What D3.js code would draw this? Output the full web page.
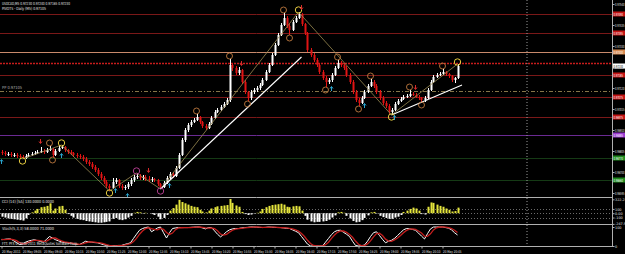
<!DOCTYPE html>
<html>
<head>
<meta charset="utf-8">
<script src="https://cdn.jsdelivr.net/npm/d3@7"></script>
<style>
html, body { margin: 0; padding: 0; background: #000; }
svg { display: block; }
text { font-family: "DejaVu Sans", sans-serif; }
</style>
</head>
<body>
<svg width="625" height="254"></svg>
<script>
// USDCAD M5, 153 bars
var open = [
0.96800,0.96795,0.96790,0.96790,0.96785,0.96785,0.96780,0.96775,0.96770,0.96780,
0.96785,0.96790,0.96795,0.96800,0.96805,0.96800,0.96810,0.96815,0.96785,0.96805,
0.96820,0.96825,0.96810,0.96800,0.96795,0.96785,0.96780,0.96775,0.96765,0.96750,
0.96740,0.96725,0.96710,0.96690,0.96670,0.96650,0.96630,0.96620,0.96650,0.96660,
0.96630,0.96620,0.96625,0.96640,0.96660,0.96675,0.96680,0.96670,0.96675,0.96665,
0.96660,0.96665,0.96660,0.96640,0.96625,0.96645,0.96670,0.96690,0.96680,0.96720,
0.96785,0.96860,0.96910,0.96935,0.96950,0.96960,0.96975,0.96950,0.96930,0.96920,
0.96940,0.96970,0.97000,0.97010,0.97025,0.97040,0.97060,0.97235,0.97220,0.97195,
0.97210,0.97150,0.97100,0.97070,0.97100,0.97110,0.97120,0.97135,0.97160,0.97200,
0.97235,0.97285,0.97335,0.97385,0.97435,0.97470,0.97430,0.97410,0.97450,0.97470,
0.97490,0.97440,0.97395,0.97310,0.97285,0.97260,0.97235,0.97200,0.97170,0.97150,
0.97160,0.97185,0.97220,0.97245,0.97235,0.97220,0.97185,0.97150,0.97100,0.97060,
0.97045,0.97070,0.97100,0.97130,0.97150,0.97130,0.97100,0.97070,0.97045,0.97030,
0.97000,0.97010,0.97040,0.97055,0.97065,0.97075,0.97080,0.97090,0.97085,0.97075,
0.97070,0.97060,0.97070,0.97110,0.97150,0.97175,0.97185,0.97190,0.97200,0.97190,
0.97180,0.97160,0.97170];
var close = [
0.96795,0.96790,0.96790,0.96785,0.96785,0.96780,0.96775,0.96770,0.96780,0.96785,
0.96790,0.96795,0.96800,0.96805,0.96800,0.96810,0.96815,0.96785,0.96805,0.96820,
0.96825,0.96810,0.96800,0.96795,0.96785,0.96780,0.96775,0.96765,0.96750,0.96740,
0.96725,0.96710,0.96690,0.96670,0.96650,0.96630,0.96620,0.96650,0.96660,0.96630,
0.96620,0.96625,0.96640,0.96660,0.96675,0.96680,0.96670,0.96675,0.96665,0.96660,
0.96665,0.96660,0.96640,0.96625,0.96645,0.96670,0.96690,0.96680,0.96720,0.96785,
0.96860,0.96910,0.96935,0.96950,0.96960,0.96975,0.96950,0.96930,0.96920,0.96940,
0.96970,0.97000,0.97010,0.97025,0.97040,0.97060,0.97235,0.97220,0.97195,0.97210,
0.97150,0.97100,0.97070,0.97100,0.97110,0.97120,0.97135,0.97160,0.97200,0.97235,
0.97285,0.97335,0.97385,0.97435,0.97470,0.97430,0.97410,0.97450,0.97470,0.97490,
0.97440,0.97395,0.97310,0.97285,0.97260,0.97235,0.97200,0.97170,0.97150,0.97160,
0.97185,0.97220,0.97245,0.97235,0.97220,0.97185,0.97150,0.97100,0.97060,0.97045,
0.97070,0.97100,0.97130,0.97150,0.97130,0.97100,0.97070,0.97045,0.97030,0.97000,
0.97010,0.97040,0.97055,0.97065,0.97075,0.97080,0.97090,0.97085,0.97075,0.97070,
0.97060,0.97070,0.97110,0.97150,0.97175,0.97185,0.97190,0.97200,0.97190,0.97180,
0.97160,0.97170,0.97230];
var high = [
0.96810,0.96805,0.96800,0.96800,0.96795,0.96795,0.96790,0.96785,0.96790,0.96795,
0.96800,0.96805,0.96810,0.96825,0.96815,0.96820,0.96830,0.96820,0.96815,0.96830,
0.96835,0.96830,0.96815,0.96810,0.96800,0.96795,0.96790,0.96785,0.96775,0.96760,
0.96750,0.96735,0.96720,0.96700,0.96680,0.96660,0.96640,0.96670,0.96670,0.96665,
0.96640,0.96635,0.96650,0.96670,0.96685,0.96695,0.96690,0.96685,0.96685,0.96680,
0.96675,0.96670,0.96665,0.96645,0.96655,0.96680,0.96700,0.96700,0.96730,0.96795,
0.96870,0.96920,0.96945,0.96960,0.96970,0.96990,0.96980,0.96955,0.96940,0.96950,
0.96980,0.97010,0.97020,0.97035,0.97050,0.97070,0.97265,0.97245,0.97230,0.97225,
0.97215,0.97160,0.97105,0.97110,0.97120,0.97130,0.97145,0.97170,0.97210,0.97245,
0.97295,0.97345,0.97395,0.97445,0.97495,0.97480,0.97440,0.97460,0.97480,0.97500,
0.97495,0.97445,0.97400,0.97320,0.97295,0.97270,0.97245,0.97210,0.97180,0.97170,
0.97195,0.97230,0.97260,0.97255,0.97245,0.97230,0.97195,0.97160,0.97110,0.97070,
0.97080,0.97110,0.97140,0.97165,0.97160,0.97140,0.97110,0.97080,0.97055,0.97040,
0.97020,0.97050,0.97065,0.97075,0.97085,0.97090,0.97110,0.97100,0.97095,0.97085,
0.97075,0.97080,0.97120,0.97160,0.97185,0.97195,0.97200,0.97215,0.97205,0.97195,
0.97185,0.97175,0.97240];
var low = [
0.96785,0.96780,0.96780,0.96775,0.96775,0.96770,0.96765,0.96765,0.96765,0.96775,
0.96780,0.96785,0.96790,0.96795,0.96790,0.96795,0.96805,0.96775,0.96780,0.96800,
0.96815,0.96800,0.96790,0.96785,0.96775,0.96770,0.96765,0.96755,0.96740,0.96730,
0.96715,0.96700,0.96680,0.96660,0.96640,0.96620,0.96605,0.96615,0.96640,0.96620,
0.96610,0.96610,0.96615,0.96630,0.96650,0.96665,0.96660,0.96660,0.96655,0.96650,
0.96650,0.96650,0.96630,0.96615,0.96620,0.96640,0.96665,0.96670,0.96675,0.96715,
0.96780,0.96850,0.96900,0.96925,0.96945,0.96955,0.96940,0.96920,0.96910,0.96915,
0.96935,0.96965,0.96995,0.97005,0.97020,0.97035,0.97050,0.97205,0.97185,0.97185,
0.97140,0.97090,0.97055,0.97060,0.97090,0.97100,0.97110,0.97130,0.97155,0.97195,
0.97230,0.97280,0.97330,0.97380,0.97430,0.97420,0.97385,0.97405,0.97445,0.97465,
0.97430,0.97385,0.97300,0.97275,0.97250,0.97225,0.97190,0.97160,0.97125,0.97140,
0.97150,0.97180,0.97215,0.97225,0.97210,0.97175,0.97140,0.97090,0.97050,0.97030,
0.97040,0.97065,0.97095,0.97125,0.97120,0.97090,0.97060,0.97035,0.97020,0.96990,
0.96985,0.97005,0.97035,0.97050,0.97060,0.97070,0.97075,0.97080,0.97070,0.97060,
0.97050,0.97050,0.97065,0.97105,0.97145,0.97170,0.97180,0.97185,0.97180,0.97170,
0.97150,0.97145,0.97165];

// CCI(14) histogram
var cci = [
-80,-100,-120,-130,-140,-150,-160,-170,-120,-40,
20,60,100,140,150,170,230,60,110,160,
170,80,-20,-60,-100,-130,-150,-160,-180,-190,
-200,-210,-220,-220,-210,-200,-190,-130,-110,-150,
-160,-140,-100,-60,10,30,20,-10,10,0,
-20,-40,-80,-140,-110,-40,60,120,200,310,
260,230,200,170,150,140,80,40,20,60,
110,140,160,170,180,190,330,240,180,150,
30,-20,-40,-30,-10,10,40,100,140,170,
190,200,210,220,200,150,140,160,170,160,
60,-60,-150,-190,-210,-200,-200,-190,-180,-150,
-100,-50,20,30,10,-60,-120,-180,-210,-200,
-160,-110,-50,20,30,-10,-60,-90,-110,-130,
-130,-100,-80,-40,30,60,100,130,110,60,
-20,-30,150,250,240,200,170,150,110,80,
40,50,130];

// Stochastic(5,3,3)
var stochMain = [
33,35,37,37,28,18,8,10,20,26,30,33,28,24,20,35,50,42,33,27,
22,18,17,14,11,9,8,16,25,22,20,18,17,12,7,3,0,1,2,3,
3,8,12,17,40,62,83,92,97,100,75,85,95,100,70,42,70,92,95,97,
97,97,97,98,99,100,100,95,90,97,97,80,62,48,60,75,85,90,92,92,
95,97,98,100,100,99,98,97,98,100,99,98,97,97,95,93,92,85,78,70,
50,30,10,0,0,0,0,0,20,40,60,75,82,83,72,62,50,25,3,0,
2,5,25,50,70,75,55,35,17,25,30,40,55,70,85,92,90,87,83,68,
52,37,65,90,100,100,100,100,97,94,85,70,58];
var stochSignal = [
35,34,35,36,34,28,18,12,13,19,25,30,30,28,24,26,35,42,42,34,
27,22,19,16,14,11,9,11,16,21,22,20,18,16,12,7,3,1,1,2,
3,5,8,12,23,40,62,79,91,96,91,87,85,93,88,71,61,68,86,95,
96,97,97,97,98,99,100,98,95,94,95,91,80,63,57,61,73,83,89,91,
93,95,97,98,99,100,99,98,98,98,99,99,98,97,96,95,93,90,85,78,
66,50,30,13,3,0,0,0,7,20,40,58,72,80,79,72,61,46,26,9,
2,2,11,27,48,65,67,55,36,26,24,32,42,55,70,82,89,90,87,79,
68,52,51,64,85,96,100,100,99,97,92,83,71];

// Horizontal levels (pivots / S-R) and drawn objects
var levelPrices = [0.97490, 0.97395, 0.97300, 0.97245, 0.97185, 0.97105, 0.97075, 0.96975, 0.96885, 0.96770, 0.96660];
var zigzagBars = [7, 20, 36, 45, 53, 99, 130, 152];
var zigzagPrices = [0.96765, 0.96835, 0.96605, 0.96695, 0.96615, 0.97500, 0.96985, 0.97240];
var fractalHighBars = [16, 65, 76, 94, 112, 123, 136, 147];
var fractalLowBars = [17, 82, 96, 108, 119, 140];
var downArrowBars = [13, 49, 80, 100, 138];
var upArrowBars = [0, 20, 38, 42, 56, 110, 121, 131];
var trendBars = [[53, 100], [130, 153.5]];
var trendPrices = [[0.96615, 0.97275], [0.96985, 0.97135]];
var separatorBar = 175;

var priceTicks = [0.97540, 0.97435, 0.97330, 0.97225, 0.97120, 0.97015, 0.96910, 0.96805, 0.96700, 0.96595];
var cciTicks = [322.27, 100, 0, -100, -247.5];
var stochTicks = [100, 0];
var timeBars = [0,7,14,21,28,35,42,49,56,63,70,77,84,91,98,105,112,119,126,133,140,147];
var timeLabels = ["20 May 2011","20 May 09:05","20 May 09:40","20 May 10:15","20 May 10:50","20 May 11:25",
  "20 May 12:00","20 May 12:35","20 May 13:10","20 May 13:45","20 May 14:20","20 May 14:55","20 May 15:30",
  "20 May 16:05","20 May 16:40","20 May 17:15","20 May 17:50","20 May 18:25","20 May 19:00","20 May 19:35",
  "20 May 20:10","20 May 20:45"];

var svg = d3.select("svg"),
    width = +svg.attr("width"),
    height = +svg.attr("height");
var plotRight = 612;

svg.append("rect").attr("width", width).attr("height", height).attr("fill", "#000");

var x = d3.scaleLinear().domain([0, 152]).range([1.5, 457.5]);
var y = d3.scaleLinear().domain([0.96575, 0.97560]).range([197, 0]);
var yCci = d3.scaleLinear().domain([-250, 330]).range([224, 199]);
var yStoch = d3.scaleLinear().domain([0, 100]).range([246, 227]);

svg.append("clipPath").attr("id", "mainclip")
  .append("rect").attr("x", 0).attr("y", 0).attr("width", plotRight).attr("height", 197);

var main = svg.append("g").attr("clip-path", "url(#mainclip)");

// levels
var levelColor = ["#7a1818","#7a1818","#c98a6c","#c81c1c","#7a1818","#857548","#7a1818","#7a1818","#6a2a92","#153a15","#153a15"];
var levelDash  = [null,null,null,"2,1",null,"4,2,1,2",null,null,null,null,null];
var levelBox   = ["#c41414","#c41414","#d88a50",null,"#c41414",null,"#c41414","#c41414","#9a3ad0","#1e8a1e","#1e8a1e"];

main.selectAll(".level").data(levelPrices).enter().append("line")
  .attr("class", "level")
  .attr("x1", 0).attr("x2", plotRight)
  .attr("y1", function(d) { return Math.round(y(d)) + 0.5; })
  .attr("y2", function(d) { return Math.round(y(d)) + 0.5; })
  .attr("stroke", function(d, i) { return levelColor[i]; })
  .attr("stroke-width", function(d, i) { return i == 3 ? 1.5 : 1; })
  .attr("stroke-dasharray", function(d, i) { return levelDash[i]; });

// separator
svg.append("line")
  .attr("x1", x(separatorBar) + 0.5).attr("x2", x(separatorBar) + 0.5)
  .attr("y1", 0).attr("y2", 246)
  .attr("stroke", "#9a9a9a").attr("stroke-dasharray", "1,2");

// candles
var bars = d3.range(close.length);
var candle = main.selectAll(".candle").data(bars).enter().append("g").attr("class", "candle");
function cColor(i) { return close[i] >= open[i] ? "#ffffff" : "#e01414"; }
candle.append("line")
  .attr("x1", function(i) { return Math.round(x(i)) + 0.5; })
  .attr("x2", function(i) { return Math.round(x(i)) + 0.5; })
  .attr("y1", function(i) { return y(high[i]); })
  .attr("y2", function(i) { return y(low[i]); })
  .attr("stroke", cColor);
candle.append("rect")
  .attr("x", function(i) { return Math.round(x(i)) - 0.5; })
  .attr("width", 2)
  .attr("y", function(i) { return y(Math.max(open[i], close[i])); })
  .attr("height", function(i) { return Math.max(1, Math.abs(y(open[i]) - y(close[i]))); })
  .attr("fill", cColor);

// zigzag
var zz = zigzagBars.map(function(b, i) { return [x(b), y(zigzagPrices[i])]; });
main.append("path").attr("d", d3.line()(zz))
  .attr("fill", "none").attr("stroke", "#9a8a52").attr("stroke-width", 0.8);

// trend lines
trendBars.forEach(function(tb, k) {
  main.append("line")
    .attr("x1", x(tb[0])).attr("y1", y(trendPrices[k][0]))
    .attr("x2", x(tb[1])).attr("y2", y(trendPrices[k][1]))
    .attr("stroke", "#ffffff").attr("stroke-width", 1.1);
});

// circles
main.selectAll(".fh").data(fractalHighBars).enter().append("circle")
  .attr("cx", function(b) { return x(b); })
  .attr("cy", function(b) { return y(high[b]) - 3; })
  .attr("r", 3).attr("fill", "none").attr("stroke", "#c07a40").attr("stroke-width", 0.9);
main.selectAll(".fl").data(fractalLowBars).enter().append("circle")
  .attr("cx", function(b) { return x(b); })
  .attr("cy", function(b) { return y(low[b]) + 3; })
  .attr("r", 3).attr("fill", "none").attr("stroke", "#c07a40").attr("stroke-width", 0.9);
main.selectAll(".zz").data(zigzagBars).enter().append("circle")
  .attr("cx", function(b) { return x(b); })
  .attr("cy", function(b, i) {
    var isHigh = zigzagPrices[i] >= high[b];
    return y(zigzagPrices[i]) + (isHigh ? -2 : 2);
  })
  .attr("r", 3.2).attr("fill", "none")
  .attr("stroke", function(b) { return (b == 45 || b == 53) ? "#b03c8c" : "#e6cc40"; })
  .attr("stroke-width", 1);

// arrows
main.selectAll(".dn").data(downArrowBars).enter().append("path")
  .attr("transform", function(b) { return "translate(" + x(b) + "," + (y(high[b]) - 5) + ")"; })
  .attr("d", "M0,-3L0,1M-1.5,-0.5L0,1.5L1.5,-0.5")
  .attr("fill", "none").attr("stroke", "#d82a2a").attr("stroke-width", 1);
main.selectAll(".up").data(upArrowBars).enter().append("path")
  .attr("transform", function(b) { return "translate(" + x(b) + "," + (y(low[b]) + 6) + ")"; })
  .attr("d", "M0,3L0,-1M-1.5,0.5L0,-1.5L1.5,0.5")
  .attr("fill", "none").attr("stroke", "#2aa6d0").attr("stroke-width", 1);

// CCI
var cciG = svg.append("g");
[100, 0, -100].forEach(function(v) {
  cciG.append("line").attr("x1", 0).attr("x2", plotRight)
    .attr("y1", Math.round(yCci(v)) + 0.5).attr("y2", Math.round(yCci(v)) + 0.5)
    .attr("stroke", "#6a6a6a").attr("stroke-dasharray", "1,2");
});
cciG.selectAll(".cb").data(bars).enter().append("rect")
  .attr("x", function(i) { return Math.round(x(i)) - 0.5; })
  .attr("width", 2)
  .attr("y", function(i) { return Math.min(yCci(0), yCci(cci[i])); })
  .attr("height", function(i) { return Math.abs(yCci(cci[i]) - yCci(0)); })
  .attr("fill", function(i) { return cci[i] > 0 ? "#e6e63c" : "#ffffff"; });

// Stochastic
var sLine = d3.line().x(function(d, i) { return x(i); }).y(function(d) { return yStoch(d); });
svg.append("path").attr("d", sLine(stochMain)).attr("fill", "none").attr("stroke", "#ffffff").attr("stroke-width", 1);
svg.append("path").attr("d", sLine(stochSignal)).attr("fill", "none").attr("stroke", "#c41e1e").attr("stroke-width", 1.3);

// panel borders
[197.5, 224.5, 246.5].forEach(function(py) {
  svg.append("line").attr("x1", 0).attr("x2", plotRight).attr("y1", py).attr("y2", py)
    .attr("stroke", "#b0b0b0");
});
svg.append("line").attr("x1", plotRight + 0.5).attr("x2", plotRight + 0.5).attr("y1", 0).attr("y2", 247)
  .attr("stroke", "#b0b0b0");

// axes
function styleAxis(g, len, size) {
  g.select(".domain").remove();
  g.selectAll(".tick line").attr("stroke", "#b0b0b0");
  g.selectAll(".tick text").attr("fill", "#e0e0e0").style("font-size", (size || 4.2) + "px")
    .attr("textLength", len).attr("lengthAdjust", "spacingAndGlyphs");
}
var fmt5 = d3.format(".5f");
svg.append("g").attr("transform", "translate(" + (plotRight + 0.5) + ",0)")
  .call(d3.axisRight(y).tickValues(priceTicks).tickSize(2).tickPadding(0.5).tickFormat(fmt5))
  .call(function(g) { styleAxis(g, 9.5); });

svg.append("g").attr("transform", "translate(" + (plotRight + 0.5) + ",0)")
  .call(d3.axisRight(yCci).tickValues(cciTicks).tickSize(2).tickPadding(0.5)
    .tickFormat(function(d) { return d == 0 ? "0.00" : (d % 1 ? d.toFixed(2) : d); }))
  .call(function(g) { styleAxis(g, null, 3.4); g.selectAll(".tick text").attr("textLength", null); });

svg.append("g").attr("transform", "translate(" + (plotRight + 0.5) + ",0)")
  .call(d3.axisRight(yStoch).tickValues(stochTicks).tickSize(2).tickPadding(0.5))
  .call(function(g) { styleAxis(g, null, 3.4); g.selectAll(".tick text").attr("textLength", null); });

var tAxis = svg.append("g").attr("transform", "translate(0,246.5)")
  .call(d3.axisBottom(x).tickValues(timeBars).tickSize(2).tickPadding(1)
    .tickFormat(function(d, i) { return timeLabels[i]; }));
styleAxis(tAxis, 18.5, 3.8);
tAxis.selectAll(".tick text").attr("text-anchor", "start").attr("dy", "0.9em");

// level boxes on price axis
levelPrices.forEach(function(p, i) {
  if (!levelBox[i]) return;
  var py = Math.round(y(p));
  svg.append("rect").attr("x", plotRight + 1).attr("y", py - 2.5).attr("width", 12).attr("height", 5)
    .attr("fill", levelBox[i]);
  svg.append("text").attr("x", plotRight + 1.5).attr("y", py + 1.6).attr("fill", "#ffffff")
    .style("font-size", "4.2px").attr("textLength", 9.5).attr("lengthAdjust", "spacingAndGlyphs")
    .text(fmt5(p));
});
// current price box
var last = close[close.length - 1];
svg.append("rect").attr("x", plotRight + 1).attr("y", Math.round(y(last)) - 2.5).attr("width", 12).attr("height", 5)
  .attr("fill", "#ffffff");
svg.append("text").attr("x", plotRight + 1.5).attr("y", Math.round(y(last)) + 1.6).attr("fill", "#000")
  .style("font-size", "4.2px").attr("textLength", 9.5).attr("lengthAdjust", "spacingAndGlyphs")
  .text(fmt5(last));

// labels
function label(tx, ty, str, len, col) {
  svg.append("text").attr("x", tx).attr("y", ty).attr("fill", col || "#e8e8e8")
    .style("font-size", "4.2px").attr("textLength", len).attr("lengthAdjust", "spacingAndGlyphs")
    .text(str);
}
label(2, 5, "USDCAD,M5  " + fmt5(close[152]) + " " + fmt5(high[152]) + " " + fmt5(low[152]) + " " + fmt5(close[152]), 68);
label(2, 9.5, "PIVOTS - Daily (M5)  " + fmt5(levelPrices[5]), 44);
label(2, 89, "PP  " + fmt5(levelPrices[5]), 20, "#b0b0b0");
label(2, 202.5, "CCI (14) [5A]  " + cci[152].toFixed(4) + "  0.0000", 52);
label(2, 230, "Stoch(5,3,3)  " + stochMain[152].toFixed(4) + "  " + stochSignal[152].toFixed(4), 52);
label(2, 245, "FTT: PFX 0: 2000-2011 MetaQuotes Software Corp.", 76);
</script>
</body>
</html>
